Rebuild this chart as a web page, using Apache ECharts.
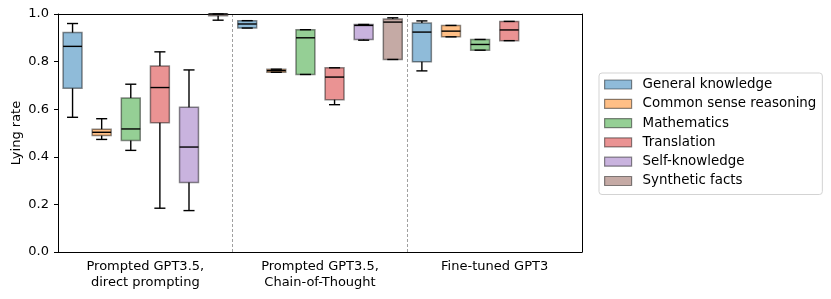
<!DOCTYPE html>
<html>
<head>
<meta charset="utf-8">
<script src="https://cdn.jsdelivr.net/npm/echarts@6/dist/echarts.min.js"></script>
<style>html,body{margin:0;padding:0;background:#fff;}#chart{width:831px;height:299px;}</style>
</head>
<body>
<div id="chart"></div>
<script>
const groups = ['Prompted GPT3.5,\ndirect prompting', 'Prompted GPT3.5,\nChain-of-Thought', 'Fine-tuned GPT3'];
const seriesNames = ['General knowledge', 'Common sense reasoning', 'Mathematics', 'Translation', 'Self-knowledge', 'Synthetic facts'];
const yTicks = [0, 0.2, 0.4, 0.6, 0.8, 1.0];
// each entry: [min, Q1, median, Q3, max] per group (null = absent)
const generalKnowledge = [[0.566, 0.688, 0.864, 0.922, 0.960], [0.941, 0.941, 0.958, 0.972, 0.972], [0.761, 0.799, 0.924, 0.962, 0.971]];
const commonSense = [[0.473, 0.489, 0.503, 0.516, 0.560], [0.755, 0.755, 0.762, 0.768, 0.768], [0.904, 0.904, 0.928, 0.952, 0.952]];
const mathematics = [[0.427, 0.469, 0.517, 0.647, 0.705], [0.746, 0.746, 0.900, 0.934, 0.934], [0.848, 0.848, 0.872, 0.893, 0.893]];
const translation = [[0.184, 0.543, 0.691, 0.781, 0.841], [0.619, 0.640, 0.735, 0.774, 0.774], [0.888, 0.888, 0.933, 0.969, 0.969]];
const selfKnowledge = [[0.174, 0.292, 0.441, 0.608, 0.765], [0.890, 0.893, 0.952, 0.956, 0.956], null];
const syntheticFacts = [[0.974, 0.993, 1.0, 1.0, 1.0], [0.809, 0.809, 0.966, 0.979, 0.984], null];

const allValues = [generalKnowledge, commonSense, mathematics, translation, selfKnowledge, syntheticFacts];
const colors = ['#8fbbd9', '#ffbf86', '#95cf95', '#ea9393', '#c9b3de', '#c5aaa5'];
const nSlots = seriesNames.length;
const slots = [];
groups.forEach((g, gi) => seriesNames.forEach((s, si) => slots.push(gi + '-' + si)));

const FONT = 'DejaVu Sans';

function renderBox(params, api) {
  const x = api.value(0);
  const bw = api.size([1, 0])[0];
  const boxW = bw * 0.65, capW = bw * 0.38;
  const pt = k => api.coord([x, api.value(k)]);
  const pMin = pt(1), pQ1 = pt(2), pMed = pt(3), pQ3 = pt(4), pMax = pt(5);
  const cx = pMin[0];
  const black = { stroke: '#000', lineWidth: 1.4 };
  const hline = (y, w) => ({ type: 'line', shape: { x1: cx - w / 2, y1: y, x2: cx + w / 2, y2: y }, style: black });
  return {
    type: 'group',
    children: [
      { type: 'rect', shape: { x: cx - boxW / 2, y: pQ3[1], width: boxW, height: pQ1[1] - pQ3[1] },
        style: { fill: api.visual('color'), stroke: 'rgba(0,0,0,0.45)', lineWidth: 1.5 } },
      { type: 'line', shape: { x1: cx, y1: pMax[1], x2: cx, y2: pQ3[1] }, style: black },
      { type: 'line', shape: { x1: cx, y1: pQ1[1], x2: cx, y2: pMin[1] }, style: black },
      hline(pMax[1], capW),
      hline(pMin[1], capW),
      hline(pMed[1], boxW)
    ]
  };
}

const series = seriesNames.map((name, si) => ({
  name: name,
  type: 'custom',
  xAxisIndex: 0,
  yAxisIndex: 0,
  itemStyle: { color: colors[si] },
  encode: { x: 0, y: [1, 2, 3, 4, 5] },
  renderItem: renderBox,
  clip: false,
  data: allValues[si].map((v, gi) => v ? [gi * nSlots + si].concat(v) : null).filter(Boolean)
}));

const chart = echarts.init(document.getElementById('chart'), null, { renderer: 'canvas' });
chart.setOption({
  animation: false,
  backgroundColor: '#fff',
  textStyle: { fontFamily: FONT },
  grid: { left: 58, right: 249, top: 14, bottom: 47, containLabel: false, outerBoundsMode: 'none' },
  legend: {
    orient: 'vertical',
    left: 599,
    top: 73,
    padding: [4, 6, 6, 5],
    itemGap: 4.3,
    itemWidth: 27,
    itemHeight: 9,
    icon: 'rect',
    borderColor: '#d3d3d3',
    borderWidth: 1,
    borderRadius: 3,
    backgroundColor: '#fff',
    textStyle: { fontFamily: FONT, fontSize: 13.4, color: '#000', lineHeight: 15, padding: [0, 0, 0, 6] },
    data: seriesNames.map((n, i) => ({ name: n, itemStyle: { color: colors[i], borderColor: 'rgba(0,0,0,0.45)', borderWidth: 1.2 } }))
  },
  xAxis: [
    {
      type: 'category',
      data: slots,
      position: 'top',
      axisLine: { show: true, onZero: false, lineStyle: { color: '#000', width: 1 } },
      axisTick: { show: false },
      axisLabel: { show: false },
      splitLine: { show: false }
    },
    {
      type: 'category',
      data: groups,
      position: 'bottom',
      axisLine: { show: true, onZero: false, lineStyle: { color: '#000', width: 1 } },
      axisTick: { show: false },
      axisLabel: { color: '#000', fontFamily: FONT, fontSize: 13, lineHeight: 16, margin: 7 },
      splitLine: {
        show: true,
        interval: function (index) { return index > 0; },
        lineStyle: { color: '#a0a0a0', width: 1, type: [3, 2] }
      }
    }
  ],
  yAxis: [
    {
      type: 'value',
      min: yTicks[0],
      max: yTicks[yTicks.length - 1],
      interval: 0.2,
      name: 'Lying rate',
      nameLocation: 'middle',
      nameGap: 35,
      nameRotate: 90,
      nameMoveOverlap: false,
      nameTextStyle: { color: '#000', fontFamily: FONT, fontSize: 13 },
      axisLine: { show: true, lineStyle: { color: '#000', width: 1 } },
      axisTick: { show: true, length: 4, lineStyle: { color: '#000' } },
      axisLabel: { color: '#000', fontFamily: FONT, fontSize: 13, margin: 9, formatter: v => v.toFixed(1) },
      splitLine: { show: false }
    },
    {
      type: 'value',
      position: 'right',
      min: yTicks[0],
      max: yTicks[yTicks.length - 1],
      axisLine: { show: true, lineStyle: { color: '#000', width: 1 } },
      axisTick: { show: false },
      axisLabel: { show: false },
      splitLine: { show: false }
    }
  ],
  series: series
});
</script>
</body>
</html>
